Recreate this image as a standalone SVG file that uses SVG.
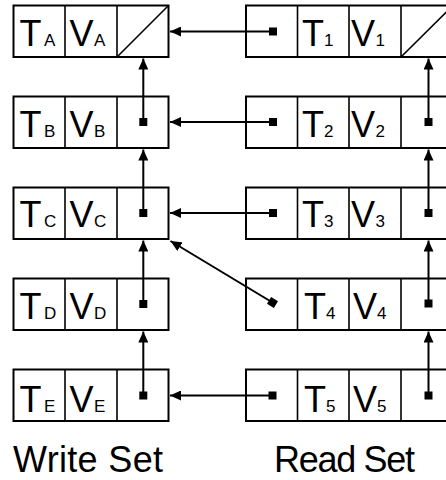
<svg xmlns="http://www.w3.org/2000/svg" width="446" height="480" viewBox="0 0 446 480">
<style>
.box{fill:#fff;stroke:#000;stroke-width:2}
.div{stroke:#000;stroke-width:1.6}
.t{font-family:"Liberation Sans",Arial,sans-serif;font-size:36px;fill:#000}
.s{font-size:17px}
.lbl{font-family:"Liberation Sans",Arial,sans-serif;font-size:36px;fill:#000}
.c{stroke:#000;stroke-width:2;fill:none;marker-end:url(#ah)}
.dot{fill:#000}
</style>
<defs>
<marker id="ah" viewBox="0 0 11 10" markerWidth="11" markerHeight="10" refX="11" refY="5" orient="auto" markerUnits="userSpaceOnUse">
<path d="M0,0 L11,5 L0,10 z" fill="#000"/>
</marker>
</defs>
<rect width="446" height="480" fill="#fff"/>
<!-- Write set nodes -->
<g id="wA">
<rect class="box" x="13.5" y="5.5" width="155" height="51.5"/>
<line class="div" x1="65" y1="5.5" x2="65" y2="57"/><line class="div" x1="117" y1="5.5" x2="117" y2="57"/>
<line class="div" x1="117" y1="57" x2="168.5" y2="5.5"/>
<text class="t" x="19.5" y="45.5">T<tspan class="s" dx="2.5">A</tspan></text>
<text class="t" x="69.5" y="45.5">V</text><text class="t s" x="94" y="45.5">A</text>
</g>
<g id="wB">
<rect class="box" x="13.5" y="96.5" width="155" height="51.5"/>
<line class="div" x1="65" y1="96.5" x2="65" y2="148"/><line class="div" x1="117" y1="96.5" x2="117" y2="148"/>
<text class="t" x="19.5" y="137">T<tspan class="s" dx="2.5">B</tspan></text>
<text class="t" x="69.5" y="137">V</text><text class="t s" x="94" y="137">B</text>
</g>
<g id="wC">
<rect class="box" x="13.5" y="187.5" width="155" height="51.5"/>
<line class="div" x1="65" y1="187.5" x2="65" y2="239"/><line class="div" x1="117" y1="187.5" x2="117" y2="239"/>
<text class="t" x="19.5" y="227">T<tspan class="s" dx="2.5">C</tspan></text>
<text class="t" x="69.5" y="227">V</text><text class="t s" x="94" y="227">C</text>
</g>
<g id="wD">
<rect class="box" x="13.5" y="278.5" width="155" height="51.5"/>
<line class="div" x1="65" y1="278.5" x2="65" y2="330"/><line class="div" x1="117" y1="278.5" x2="117" y2="330"/>
<text class="t" x="19.5" y="318.5">T<tspan class="s" dx="2.5">D</tspan></text>
<text class="t" x="69.5" y="318.5">V</text><text class="t s" x="94" y="318.5">D</text>
</g>
<g id="wE">
<rect class="box" x="13.5" y="369.5" width="155" height="51.5"/>
<line class="div" x1="65" y1="369.5" x2="65" y2="421"/><line class="div" x1="117" y1="369.5" x2="117" y2="421"/>
<text class="t" x="19.5" y="411.5">T<tspan class="s" dx="2.5">E</tspan></text>
<text class="t" x="69.5" y="411.5">V</text><text class="t s" x="94" y="411.5">E</text>
</g>
<!-- Read set nodes -->
<g id="r1">
<rect class="box" x="246" y="5.5" width="207" height="51.5"/>
<line class="div" x1="297.5" y1="5.5" x2="297.5" y2="57"/><line class="div" x1="349" y1="5.5" x2="349" y2="57"/><line class="div" x1="401" y1="5.5" x2="401" y2="57"/>
<line class="div" x1="401" y1="57" x2="453" y2="5.5"/>
<text class="t" x="302" y="45.5">T<tspan class="s">1</tspan></text>
<text class="t" x="351" y="45.5">V</text><text class="t s" x="375.5" y="45.5">1</text>
</g>
<g id="r2">
<rect class="box" x="246" y="96.5" width="207" height="51.5"/>
<line class="div" x1="297.5" y1="96.5" x2="297.5" y2="148"/><line class="div" x1="349" y1="96.5" x2="349" y2="148"/><line class="div" x1="401" y1="96.5" x2="401" y2="148"/>
<text class="t" x="302" y="137">T<tspan class="s">2</tspan></text>
<text class="t" x="351" y="137">V</text><text class="t s" x="375.5" y="137">2</text>
</g>
<g id="r3">
<rect class="box" x="246" y="187.5" width="207" height="51.5"/>
<line class="div" x1="297.5" y1="187.5" x2="297.5" y2="239"/><line class="div" x1="349" y1="187.5" x2="349" y2="239"/><line class="div" x1="401" y1="187.5" x2="401" y2="239"/>
<text class="t" x="302" y="227">T<tspan class="s">3</tspan></text>
<text class="t" x="351" y="227">V</text><text class="t s" x="375.5" y="227">3</text>
</g>
<g id="r4">
<rect class="box" x="246" y="278.5" width="207" height="51.5"/>
<line class="div" x1="297.5" y1="278.5" x2="297.5" y2="330"/><line class="div" x1="349" y1="278.5" x2="349" y2="330"/><line class="div" x1="401" y1="278.5" x2="401" y2="330"/>
<text class="t" x="304" y="318.5">T<tspan class="s">4</tspan></text>
<text class="t" x="353" y="318.5">V</text><text class="t s" x="377" y="318.5">4</text>
</g>
<g id="r5">
<rect class="box" x="246" y="369.5" width="207" height="51.5"/>
<line class="div" x1="297.5" y1="369.5" x2="297.5" y2="421"/><line class="div" x1="349" y1="369.5" x2="349" y2="421"/><line class="div" x1="401" y1="369.5" x2="401" y2="421"/>
<text class="t" x="304" y="411.5">T<tspan class="s">5</tspan></text>
<text class="t" x="353" y="411.5">V</text><text class="t s" x="377" y="411.5">5</text>
</g>
<!-- Connectors -->
<g id="connectors">
<line class="c" x1="273" y1="31.5" x2="170" y2="31.5"/>
<line class="c" x1="273" y1="122" x2="170" y2="122"/>
<line class="c" x1="273" y1="213" x2="170" y2="213"/>
<line class="c" x1="273" y1="395.5" x2="170" y2="395.5"/>
<line class="c" x1="272.5" y1="302.5" x2="170.5" y2="241"/>
<line class="c" x1="143.3" y1="122" x2="143.3" y2="58.5"/>
<line class="c" x1="143.3" y1="213" x2="143.3" y2="149.5"/>
<line class="c" x1="143.3" y1="304" x2="143.3" y2="240.5"/>
<line class="c" x1="143.3" y1="395.5" x2="143.3" y2="331.5"/>
<line class="c" x1="428.5" y1="122" x2="428.5" y2="58.5"/>
<line class="c" x1="428.5" y1="213" x2="428.5" y2="149.5"/>
<line class="c" x1="428.5" y1="303.5" x2="428.5" y2="240.5"/>
<line class="c" x1="428.5" y1="395.5" x2="428.5" y2="331.5"/>
<rect class="dot" x="269" y="27.5" width="8" height="8"/>
<rect class="dot" x="269" y="118" width="8" height="8"/>
<rect class="dot" x="269" y="209" width="8" height="8"/>
<rect class="dot" x="268.5" y="391.5" width="8" height="8"/>
<rect class="dot" x="-4" y="-4" width="8" height="8" transform="translate(272.5,302.5) rotate(31)"/>
<rect class="dot" x="139.3" y="118" width="8" height="8"/>
<rect class="dot" x="139.3" y="209" width="8" height="8"/>
<rect class="dot" x="139.3" y="300" width="8" height="8"/>
<rect class="dot" x="139.3" y="391.5" width="8" height="8"/>
<rect class="dot" x="424.5" y="118" width="8" height="8"/>
<rect class="dot" x="424.5" y="209" width="8" height="8"/>
<rect class="dot" x="424.5" y="299.5" width="8" height="8"/>
<rect class="dot" x="424.5" y="391.5" width="8" height="8"/>
</g>
<text class="lbl" x="13" y="472" textLength="150">Write Set</text>
<text class="lbl" x="274" y="472" textLength="141">Read Set</text>
</svg>
